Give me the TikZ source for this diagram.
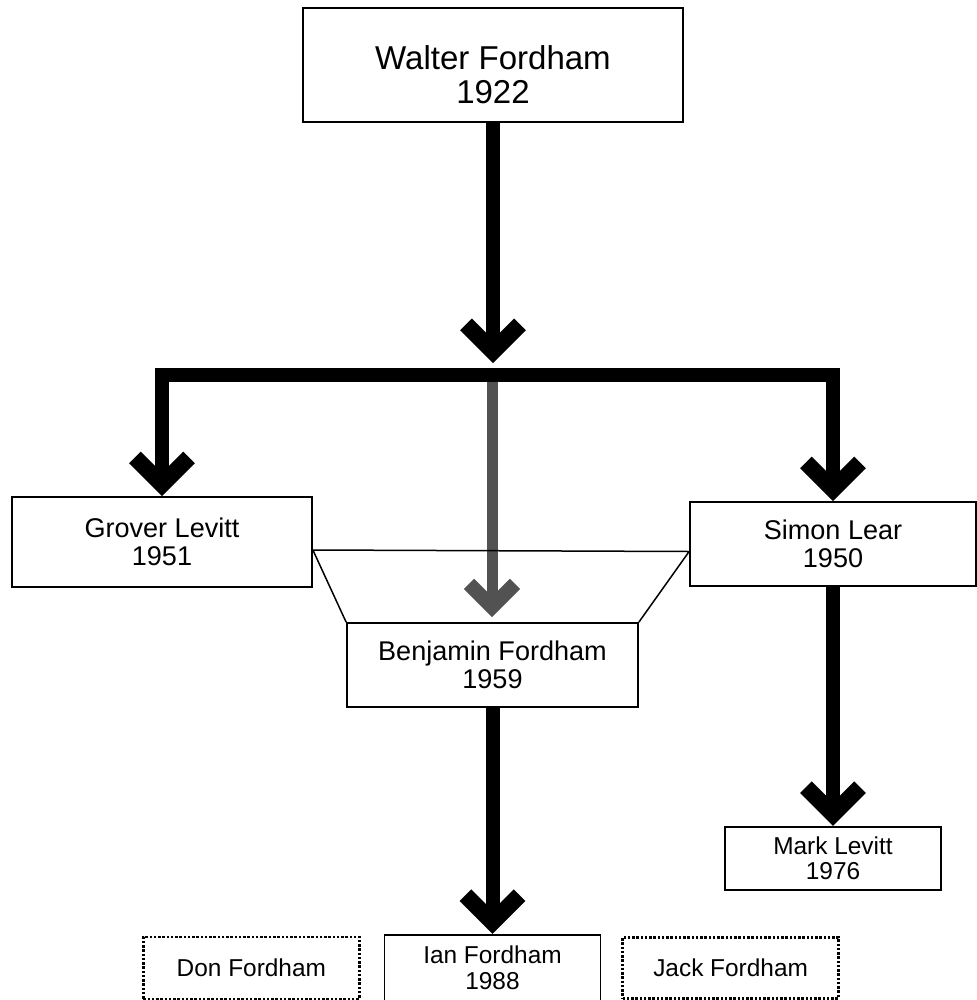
\documentclass[tikz,border=0pt]{standalone}
\usepackage{fontspec}
\setmainfont{Liberation Sans}
\usetikzlibrary{arrows.meta,positioning}
\tikzset{chevron/.tip={Straight Barb[sharp,length=5.4mm,width=10.8mm,line width=3.3mm]},thinchevron/.tip={Straight Barb[sharp,length=4.6mm,width=9.2mm,line width=2.9mm]},person/.style={draw,line width=0.35mm,fill=white,inner sep=0pt,align=center,font=\fontsize{15.4}{15.6}\selectfont},elder/.style={person,font=\fontsize{18.8}{19.5}\selectfont,minimum width=76mm,minimum height=22.8mm},kid/.style={person,font=\fontsize{13.9}{14.4}\selectfont,minimum width=43.2mm,minimum height=12.6mm},unknown/.style={kid,line width=0.5mm,densely dotted},fat/.style={line width=2.8mm,-chevron},ghost/.style={line width=2.2mm,draw=black!68,-thinchevron},link/.style={line width=0.3mm}}

\begin{document}
\begin{tikzpicture}
\useasboundingbox (0,0) rectangle (195.4mm,-200mm);
\node[elder] (walter) at (98.6mm,-13mm) {\rule{0pt}{8.6mm}Walter Fordham\\1922};
\node[person,minimum width=60mm,minimum height=18mm] (grover) at (32.4mm,-108.4mm) {Grover Levitt\\1951};
\node[person,minimum width=57.2mm,minimum height=16.8mm] (simon) at (166.6mm,-108.8mm) {Simon Lear\\1950};
\node[person,minimum width=58.2mm,minimum height=16.8mm] (benjamin) at (98.5mm,-133mm) {Benjamin Fordham\\1959};
\node[kid,below=47.8mm of simon] (mark) {Mark Levitt\\1976};
\node[kid,minimum height=13.2mm,below=45.2mm of benjamin] (ian) {Ian Fordham\\1988};
\node[unknown,minimum height=12.4mm,left=4.6mm of ian] (don) {Don Fordham};
\node[unknown,minimum height=12.2mm,right=4mm of ian] (jack) {Jack Fordham};
\coordinate (split) at (98.6mm,-72.6mm);
\coordinate (bar) at (98.4mm,-75mm);
\draw[fat] (walter.south) -- (split);
\draw[ghost] (bar) -- ([yshift=1mm]benjamin.north -| bar);
\draw[line width=2.8mm,chevron-chevron] (grover.north) |- (bar) -| (simon.north);
\draw[link] (benjamin.north west) -- ([yshift=-1.6mm]grover.east) -- ([yshift=-1.5mm]simon.west) -- (benjamin.north east);
\draw[fat] (benjamin.south) -- (ian.north);
\draw[fat] (simon.south) -- (simon.south |- mark.north);
\end{tikzpicture}
\end{document}
